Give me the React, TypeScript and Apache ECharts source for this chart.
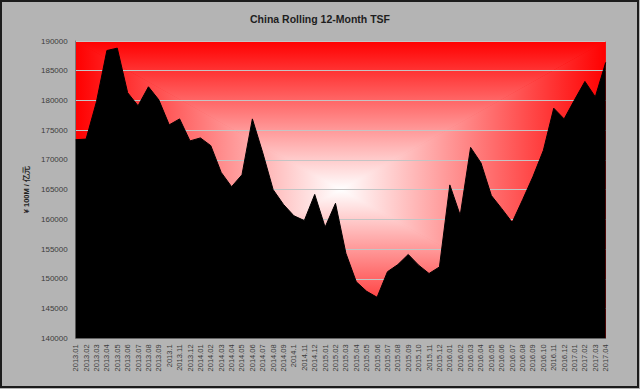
import React, { useEffect, useRef } from "react";
import * as echarts from "echarts";

const categories: string[] = [
  "2013.01","2013.02","2013.03","2013.04","2013.05","2013.06","2013.07","2013.08","2013.09","2013.1","2013.11","2013.12",
  "2014.01","2014.02","2014.03","2014.04","2014.05","2014.06","2014.07","2014.08","2014.09","2014.1","2014.11","2014.12",
  "2015.01","2015.02","2015.03","2015.04","2015.05","2015.06","2015.07","2015.08","2015.09","2015.10","2015.11","2015.12",
  "2016.01","2016.02","2016.03","2016.04","2016.05","2016.06","2016.07","2016.08","2016.09","2016.10","2016.11","2016.12",
  "2017.01","2017.02","2017.03","2017.04",
];

const tsfValues: number[] = [
  173400, 173500, 179800, 188400, 188800, 181300, 179100, 182300, 180100, 175900, 176900, 173200,
  173700, 172400, 167900, 165500, 167500, 176900, 171200, 165000, 162500, 160600, 159800, 164200,
  158700, 162700, 154300, 149500, 147900, 146900, 151200, 152400, 154100, 152300, 150900, 152000,
  165800, 160700, 172100, 169500, 164000, 161800, 159500, 163300, 167200, 171600, 178700, 176900,
  180100, 183200, 180600, 186400,
];

const yMin = 140000;
const yMax = 190000;
const yInterval = 5000;

const W = 640;
const H = 389;
const L = 75.7;
const R = 605.7;
const T = 41;
const B = 338.3;

export default function App() {
  const ref = useRef<HTMLDivElement>(null);
  useEffect(() => {
    if (!ref.current) return;
    const chart = echarts.init(ref.current, null, { renderer: "svg" });
    const cx = (L + R) / 2;
    const cy = (T + B) / 2;
    const red = "#ff0000";
    const white = "#ffffff";
    const lg = (x: number, y: number, x2: number, y2: number, c0: string, c1: string) =>
      new echarts.graphic.LinearGradient(x, y, x2, y2, [
        { offset: 0, color: c0 },
        { offset: 1, color: c1 },
      ]);
    const font = "'Liberation Sans', Arial, sans-serif";
    chart.setOption({
      animation: false,
      backgroundColor: "#b4b4b4",
      title: {
        text: "China Rolling 12-Month TSF",
        left: "center",
        top: 8,
        textStyle: { fontSize: 10.5, fontWeight: "bold", color: "#1e1e1e", fontFamily: font },
      },
      graphic: [
        {
          type: "rect",
          z: -2,
          silent: true,
          shape: { x: L, y: T, width: R - L, height: B - T },
          style: {
            fill: new echarts.graphic.RadialGradient(0.5, 0.5, 0.6, [
              { offset: 0, color: white },
              { offset: 1, color: red },
            ]),
          },
        },
        {
          type: "polygon",
          z: -1,
          silent: true,
          shape: { points: [[L, T], [R, T], [cx, cy]] },
          style: { fill: lg(0, 0, 0, 1, red, white) },
        },
        {
          type: "polygon",
          z: -1,
          silent: true,
          shape: { points: [[L, B], [R, B], [cx, cy]] },
          style: { fill: lg(0, 0, 0, 1, white, red) },
        },
        {
          type: "polygon",
          z: -1,
          silent: true,
          shape: { points: [[L, T], [L, B], [cx, cy]] },
          style: { fill: lg(0, 0, 1, 0, red, white) },
        },
        {
          type: "polygon",
          z: -1,
          silent: true,
          shape: { points: [[R, T], [R, B], [cx, cy]] },
          style: { fill: lg(0, 0, 1, 0, white, red) },
        },
        {
          type: "rect",
          z: 10,
          silent: true,
          shape: { x: 1, y: 1, width: W - 3, height: H - 3 },
          style: { fill: "none", stroke: "#1c1c1c", lineWidth: 2 },
        },
      ],
      grid: { left: L, right: W - R, top: T, bottom: H - B, containLabel: false },
      xAxis: {
        type: "category",
        data: categories,
        boundaryGap: false,
        axisLine: { show: true, lineStyle: { color: "#7a7a7a", width: 1 } },
        axisTick: { show: false },
        axisLabel: {
          interval: 0,
          rotate: 90,
          fontSize: 7.5,
          color: "#3c3c3c",
          margin: 6,
          fontFamily: font,
        },
        splitLine: { show: false },
      },
      yAxis: {
        type: "value",
        min: yMin,
        max: yMax,
        interval: yInterval,
        name: "¥ 100M / 亿元",
        nameLocation: "middle",
        nameGap: 44,
        nameRotate: 90,
        nameTextStyle: { fontSize: 7.5, fontWeight: "bold", color: "#1e1e1e", fontFamily: font },
        axisLine: { show: true, lineStyle: { color: "#7a7a7a", width: 1 } },
        axisTick: { show: false },
        axisLabel: {
          fontSize: 8,
          color: "#3c3c3c",
          margin: 8,
          fontFamily: font,
          formatter: (v: number) => String(v),
        },
        splitLine: { show: true, lineStyle: { color: "#c4c4c4", width: 1 } },
      },
      series: [
        {
          type: "line",
          data: tsfValues,
          symbol: "none",
          lineStyle: { color: "#000000", width: 1 },
          areaStyle: { color: "#000000", opacity: 1, origin: "start" },
          z: 3,
        },
      ],
    });
    return () => chart.dispose();
  }, []);
  return (
    <div
      ref={ref}
      style={{ position: "fixed", left: 0, top: 0, width: W, height: H }}
    />
  );
}
